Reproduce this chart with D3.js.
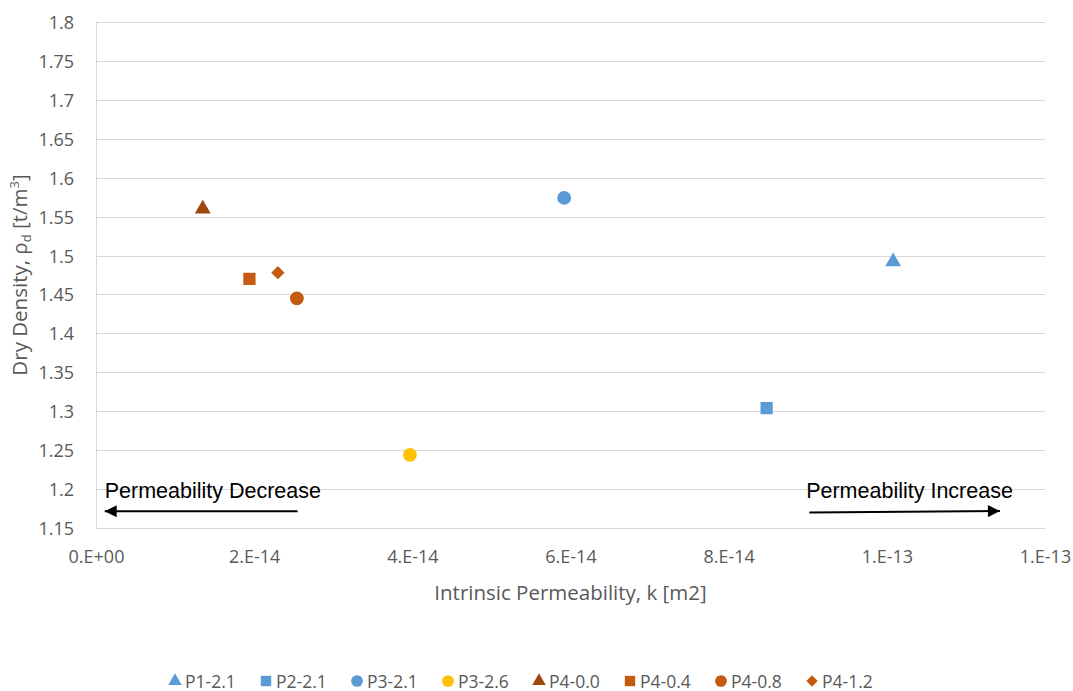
<!DOCTYPE html>
<html>
<head>
<meta charset="utf-8">
<script src="https://cdn.jsdelivr.net/npm/d3@7"></script>
<style>
	body { margin: 0; background: #fff; }
	text { font-family: "Open Sans", "Noto Sans", sans-serif; }
</style>
</head>
<body>
<div id="chart"></div>
<script>
// data
var seriesNames = ["P1-2.1", "P2-2.1", "P3-2.1", "P3-2.6", "P4-0.0", "P4-0.4", "P4-0.8", "P4-1.2"];
var permeability = [1.008e-13, 8.48e-14, 5.92e-14, 3.97e-14, 1.35e-14, 1.94e-14, 2.54e-14, 2.30e-14];
var dryDensity = [1.492, 1.304, 1.574, 1.244, 1.560, 1.470, 1.445, 1.478];
var markerShapes = ["triangle", "square", "circle", "circle", "triangle", "square", "circle", "diamond"];
var markerColors = ["#5b9bd5", "#5b9bd5", "#5b9bd5", "#ffc000", "#9e480e", "#c55a11", "#c55a11", "#c55a11"];

var xTicks = [0, 2e-14, 4e-14, 6e-14, 8e-14, 1e-13, 1.2e-13];
var xTickLabels = ["0.E+00", "2.E-14", "4.E-14", "6.E-14", "8.E-14", "1.E-13", "1.E-13"];
var yTicks = [1.15, 1.2, 1.25, 1.3, 1.35, 1.4, 1.45, 1.5, 1.55, 1.6, 1.65, 1.7, 1.75, 1.8];

// annotation arrows, in data units
var arrowText = ["Permeability Decrease", "Permeability Increase"];
var arrowFrom = [[2.55e-14, 1.1715], [9.02e-14, 1.1700]];
var arrowTo = [[1.1e-15, 1.1715], [1.143e-13, 1.1718]];
var arrowLabelAt = [[1.1e-15, 1.1885], [8.98e-14, 1.1885]];

var width = 1073, height = 691;
var margin = {top: 22, right: 28, bottom: 163, left: 96};

var svg = d3.select("#chart").append("svg")
	.attr("width", width)
	.attr("height", height);

var x = d3.scaleLinear().domain([0, 1.2e-13]).range([margin.left, width - margin.right]);
var y = d3.scaleLinear().domain([1.15, 1.8]).range([height - margin.bottom, margin.top]);

// gridlines
svg.append("g")
	.selectAll("line")
	.data(yTicks)
	.enter().append("line")
	.attr("x1", x(0)).attr("x2", x(1.2e-13))
	.attr("y1", function(d){ return Math.round(y(d)) + 0.5; })
	.attr("y2", function(d){ return Math.round(y(d)) + 0.5; })
	.attr("stroke", "#d9d9d9")
	.attr("stroke-width", 1);

// left axis line
svg.append("line")
	.attr("x1", Math.round(x(0)) + 0.5).attr("x2", Math.round(x(0)) + 0.5)
	.attr("y1", y(1.8)).attr("y2", y(1.15))
	.attr("stroke", "#d9d9d9");

// y axis
var yAxis = svg.append("g")
	.attr("transform", "translate(" + (x(0) - 19) + ",0)")
	.call(d3.axisLeft(y).tickValues(yTicks).tickSize(0).tickFormat(function(d){ return d3.format("")(+d.toFixed(2)); }));
yAxis.select(".domain").remove();
yAxis.selectAll("text")
	.attr("fill", "#595959")
	.style("font-size", "18px")
	.attr("dy", "0.36em");

// x axis
var xAxis = svg.append("g")
	.attr("transform", "translate(0," + y(1.15) + ")")
	.call(d3.axisBottom(x).tickValues(xTicks).tickSize(0).tickFormat(function(d, i){ return xTickLabels[i]; }));
xAxis.select(".domain").remove();
xAxis.selectAll("text")
	.attr("fill", "#595959")
	.style("font-size", "18px")
	.attr("y", 0)
	.attr("dy", 35);

// axis titles
svg.append("text")
	.attr("x", (x(0) + x(1.2e-13)) / 2)
	.attr("y", 600)
	.attr("text-anchor", "middle")
	.attr("fill", "#595959")
	.style("font-size", "20.5px")
	.text("Intrinsic Permeability, k [m2]");

var yt = svg.append("text")
	.attr("transform", "translate(27," + ((y(1.8) + y(1.15)) / 2) + ") rotate(-90)")
	.attr("text-anchor", "middle")
	.attr("fill", "#595959")
	.style("font-size", "20.5px");
yt.append("tspan").text("Dry Density, ρ");
yt.append("tspan").attr("dy", 4).style("font-size", "13px").text("d");
yt.append("tspan").attr("dy", -4).text(" [t/m");
yt.append("tspan").attr("dy", -8).style("font-size", "13px").text("3");
yt.append("tspan").attr("dy", 8).text("]");

function symbolFor(shape, k){
	if(shape == "triangle") return d3.symbol().type(d3.symbolTriangle).size(110 * k)();
	if(shape == "square") return d3.symbol().type(d3.symbolSquare).size(150 * k)();
	if(shape == "diamond") return d3.symbol().type(d3.symbolSquare).size(90 * k)();
	return d3.symbol().type(d3.symbolCircle).size(150 * k)();
}
function placeMarker(shape, px, py){
	return "translate(" + px + "," + py + ")" + (shape == "diamond" ? " rotate(45)" : "");
}

// points
svg.append("g")
	.selectAll("path")
	.data(seriesNames)
	.enter().append("path")
	.attr("d", function(d, i){ return symbolFor(markerShapes[i], 1); })
	.attr("transform", function(d, i){ return placeMarker(markerShapes[i], x(permeability[i]), y(dryDensity[i])); })
	.attr("fill", function(d, i){ return markerColors[i]; });

// arrows
svg.append("defs").append("marker")
	.attr("id", "head")
	.attr("viewBox", "0 0 10 10")
	.attr("refX", 10).attr("refY", 5)
	.attr("markerWidth", 6.5).attr("markerHeight", 6)
	.attr("orient", "auto")
	.append("path")
	.attr("d", "M0,0L10,5L0,10Z")
	.attr("fill", "#000");

for (var i = 0; i < arrowText.length; i++) {
	svg.append("line")
		.attr("x1", x(arrowFrom[i][0])).attr("y1", y(arrowFrom[i][1]))
		.attr("x2", x(arrowTo[i][0])).attr("y2", y(arrowTo[i][1]))
		.attr("stroke", "#000")
		.attr("stroke-width", 2)
		.attr("marker-end", "url(#head)");
	svg.append("text")
		.attr("x", x(arrowLabelAt[i][0]))
		.attr("y", y(arrowLabelAt[i][1]))
		.style("font-family", "'Liberation Sans', Arial, sans-serif")
		.style("font-size", "21.5px")
		.attr("fill", "#000")
		.text(arrowText[i]);
}

// legend
var lx = d3.scalePoint().domain(seriesNames).range([175, 812]);
var legend = svg.append("g")
	.selectAll("g")
	.data(seriesNames)
	.enter().append("g")
	.attr("transform", function(d){ return "translate(" + lx(d) + ",681)"; });
legend.append("path")
	.attr("d", function(d, i){ return symbolFor(markerShapes[i], 0.72); })
	.attr("transform", function(d, i){ return markerShapes[i] == "diamond" ? "rotate(45)" : null; })
	.attr("fill", function(d, i){ return markerColors[i]; });
legend.append("text")
	.attr("x", 10)
	.attr("y", 6.5)
	.attr("fill", "#595959")
	.style("font-size", "17.5px")
	.text(function(d){ return d; });
</script>
</body>
</html>
